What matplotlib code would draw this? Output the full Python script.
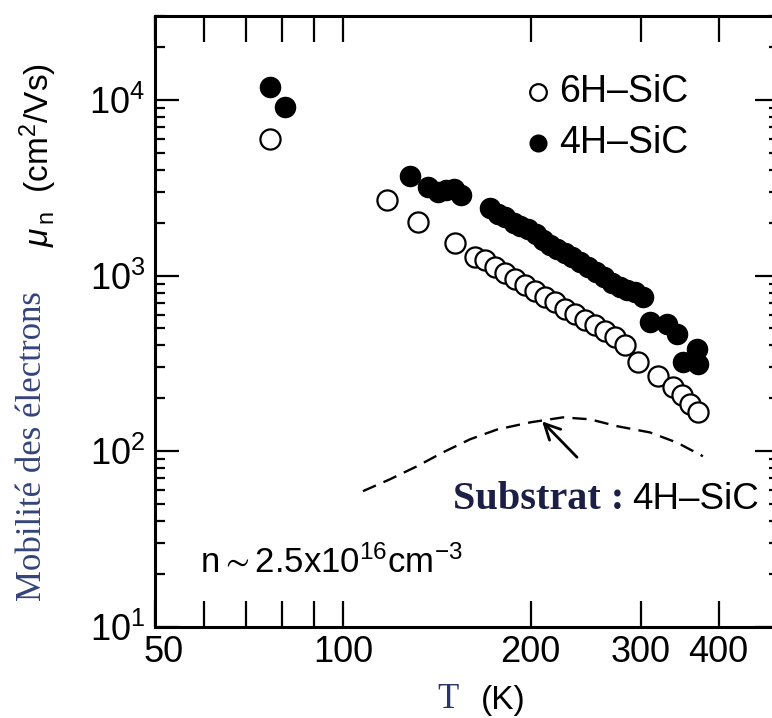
import matplotlib
matplotlib.use("Agg")
import matplotlib.pyplot as plt
from matplotlib.ticker import FixedLocator, FixedFormatter, LogLocator, NullLocator, NullFormatter
from matplotlib.transforms import ScaledTranslation

plt.rcParams['font.family'] = ['Liberation Sans', 'DejaVu Sans']
plt.rcParams['mathtext.fontset'] = 'custom'
plt.rcParams['mathtext.rm'] = 'Liberation Sans'
plt.rcParams['mathtext.it'] = 'Liberation Sans:italic'
plt.rcParams['mathtext.bf'] = 'Liberation Sans:bold'
plt.rcParams['mathtext.default'] = 'regular'
plt.rcParams['mathtext.fallback'] = 'stixsans'

# Electron Hall mobility versus temperature
t_6h = [76.5, 117.7, 132.0, 151.3, 162.9, 169.0, 175.3, 181.9, 188.7, 195.8,
        203.2, 210.9, 218.8, 227.0, 235.5, 244.4, 253.6, 263.2, 273.1, 283.4,
        297.2, 320.1, 338.3, 349.7, 360.2, 371.0]
mu_6h = [6000, 2700, 2030, 1540, 1280, 1220, 1125, 1040, 962, 889,
         822, 760, 703, 649, 608, 562, 520, 481, 445, 400,
         324, 267, 231, 208, 187, 167]

t_4h = [76.5, 80.8, 128.1, 136.9, 142.1, 146.4, 150.7, 154.6,
        172.1, 177.3, 181.9, 188.0, 192.3, 198.1, 204.0, 209.3, 214.8, 220.5,
        227.0, 233.0, 240.0, 247.2, 254.5, 262.1, 270.0, 278.1, 285.3, 293.8,
        302.6, 310.6, 330.7, 343.2, 350.9, 369.5, 371.0]
mu_4h = [11860, 9120, 3700, 3210, 3000, 3080, 3120, 2880,
         2430, 2250, 2140, 2000, 1920, 1850, 1730, 1600, 1500, 1420,
         1350, 1280, 1200, 1125, 1054, 975, 913, 866, 833, 811,
         760, 541, 527, 462, 321, 380, 312]

# 4H-SiC substrate
t_sub = [107.7, 119.0, 131.5, 144.7, 159.9, 176.7, 199.5, 225.3, 249.0,
         275.0, 310.6, 343.2, 377.6]
mu_sub = [59.3, 69.3, 82.2, 98.6, 117, 133, 146, 156, 152,
          139, 128, 112, 93.7]

x_ticks = [50, 60, 70, 80, 90, 100, 200, 300, 400]
x_tick_labels = ['50', '', '', '', '', '100', '200', '300', '400']
y_ticks = [10, 100, 1000, 10000]
y_tick_labels = [r'$10^{1}$', r'$10^{2}$', r'$10^{3}$', r'$10^{4}$']

fig = plt.figure(figsize=(7.72, 7.18), dpi=100)
ax = fig.add_axes([155 / 772, 91 / 718, 624 / 772, 611 / 718])
ax.set_xscale('log')
ax.set_yscale('log')
ax.set_xlim(50, 500)
ax.set_ylim(10, 3e4)

ax.plot(t_6h, mu_6h, linestyle='none', marker='o', markersize=14.5,
        markerfacecolor='white', markeredgecolor='black', markeredgewidth=1.6,
        zorder=3)
ax.plot(t_4h, mu_4h, linestyle='none', marker='o', markersize=14.5,
        markerfacecolor='black', markeredgecolor='black', zorder=2)
ax.plot(t_sub, mu_sub, color='black', linewidth=1.7, dashes=(6, 3.5), zorder=1)

ax.annotate('', xy=(208.6, 148), xytext=(237.3, 92.5),
            arrowprops=dict(arrowstyle='->', lw=2.0, color='black',
                            mutation_scale=28, shrinkA=0, shrinkB=0))

# Ticks
ax.xaxis.set_major_locator(FixedLocator(x_ticks))
ax.xaxis.set_major_formatter(FixedFormatter(x_tick_labels))
ax.xaxis.set_minor_locator(NullLocator())
ax.yaxis.set_major_locator(FixedLocator(y_ticks))
ax.yaxis.set_major_formatter(FixedFormatter(y_tick_labels))
ax.yaxis.set_minor_locator(LogLocator(base=10, subs=range(2, 10), numticks=20))
ax.yaxis.set_minor_formatter(NullFormatter())

ax.tick_params(axis='x', which='major', direction='in', top=True, bottom=True,
               length=19, width=1.6, labelsize=26, pad=6)
ax.tick_params(axis='y', which='major', direction='in', left=True, right=True,
               length=17, width=1.6, labelsize=26, pad=7)
ax.tick_params(axis='y', which='minor', direction='in', left=True, right=True,
               length=7.5, width=1.6)
for sp in ax.spines.values():
    sp.set_linewidth(2.2)

# nudge the "50" label clear of the 10^1 label
first_tick = ax.xaxis.get_major_ticks()[0]
first_tick.label1.set_transform(first_tick.label1.get_transform()
                                + ScaledTranslation(9 / 100, 0, fig.dpi_scale_trans))

# Legend
ax.plot([0.614], [0.8756], transform=ax.transAxes, linestyle='none', marker='o',
        markersize=12, markerfacecolor='white', markeredgecolor='black',
        markeredgewidth=1.6, clip_on=False)
ax.plot([0.614], [0.792], transform=ax.transAxes, linestyle='none', marker='o',
        markersize=12, markerfacecolor='black', markeredgecolor='black',
        clip_on=False)
ax.text(0.648, 0.8756, '6H\u2013SiC', transform=ax.transAxes, fontsize=27,
        va='center', ha='left')
ax.text(0.648, 0.792, '4H\u2013SiC', transform=ax.transAxes, fontsize=27,
        va='center', ha='left')

# Annotations
ax.text(0.072, 0.0884, r'n$\sim$2.5x10$^{16}$cm$^{-3}$', transform=ax.transAxes,
        fontsize=25, va='baseline', ha='left')
ax.text(0.7516, 0.193, 'Substrat :', transform=ax.transAxes,
        family='Liberation Serif', fontweight='bold', fontsize=29,
        color='#1c1f45', va='baseline', ha='right')
ax.text(0.7644, 0.193, '4H\u2013SiC', transform=ax.transAxes, fontsize=26.5,
        va='baseline', ha='left')

# Axis labels
fig.text(38 / 772, 1 - 155 / 718, r'$\mathit{\mu}_{\,n}$  (cm$^{2}$/Vs)',
         rotation=90, fontsize=24, ha='center', va='center')
fig.text(33 / 772, 1 - 446 / 718, 'Mobilité des électrons', rotation=90,
         family='Liberation Serif', fontsize=25, color='#34437a',
         ha='center', va='center')
fig.text(448 / 772, 1 - 700 / 718, 'T', family='Liberation Serif', fontsize=25,
         color='#2a3568', ha='center', va='center')
fig.text(503 / 772, 1 - 700 / 718, '(K)', fontsize=24, ha='center', va='center')

fig.savefig('out.png', dpi=100)
